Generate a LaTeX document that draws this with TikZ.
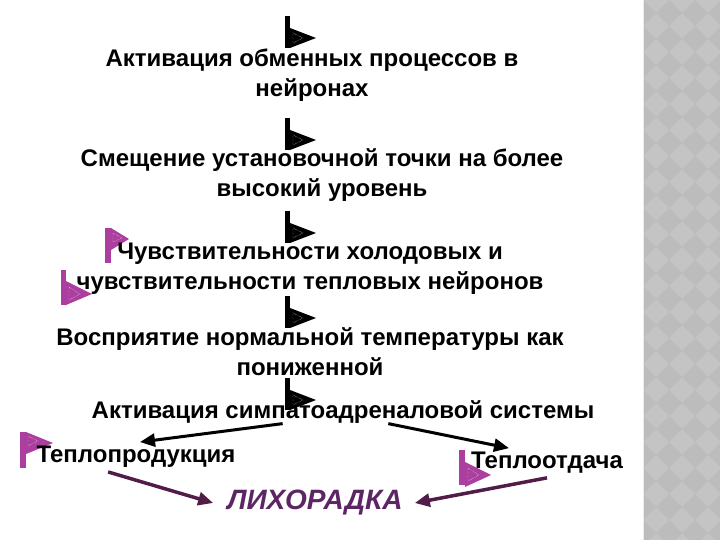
\documentclass[tikz,border=0pt]{standalone}
\usepackage{fontspec}
\setmainfont{Liberation Sans}
\usetikzlibrary{arrows.meta,calc}
\definecolor{flagpink}{RGB}{172,62,160}
\definecolor{fevpurple}{RGB}{92,38,100}
\definecolor{darrow}{RGB}{82,28,72}
\definecolor{stripgray}{RGB}{196,196,196}
\definecolor{stripdark}{RGB}{188,188,188}
\tikzstyle{txt}=[font=\fontsize{24}{30}\selectfont\bfseries, align=center, inner sep=0pt]
\tikzstyle{blackarrow}=[line width=3pt, -{Triangle[length=15pt,width=13pt]}]
\tikzstyle{purplearrow}=[darrow, line width=3.5pt, -{Triangle[length=15pt,width=13pt]}]
\tikzstyle{dots}=[white, densely dotted, line width=0.4pt]

\begin{document}
\begin{tikzpicture}[x=1pt, y=-1pt]
	\useasboundingbox (0,0) rectangle (720,540);

	% grey strip on the right
	\begin{scope}
		\clip (643,0) rectangle (720,540);
		\fill[stripgray] (643,0) rectangle (720,540);
		\foreach \i in {0,...,21}
			\foreach \j in {0,1,2,3}
			{
				\fill[stripdark] (643+26*\j,26*\i) -- +(13,13) -- +(0,26) -- +(-13,13) -- cycle;
			}
	\end{scope}
	\draw[white!85!gray, line width=1pt] (643,0) -- (643,540);

	% black flags between the steps
	\foreach \b in {48,150,243,328,410}
		{
			\fill (285,\b) rectangle (290,\b-32);
			\fill (290,\b) -- (290,\b-20) -- (316,\b-10) -- cycle;
			\draw[dots] (293,\b-5) -- (293,\b-15) -- (303,\b-10) -- cycle;
		}

	% pink flags
	\fill[flagpink] (105,228) rectangle (111,263);
	\fill[flagpink] (111,228) -- (129,239) -- (111,250) -- cycle;
	\draw[dots] (113,233) -- (113,242) -- (122,238) -- cycle;

	\fill[flagpink] (61,270) rectangle (66,305);
	\fill[flagpink] (66,281) -- (92,294) -- (66,305) -- cycle;
	\draw[dots] (69,287) -- (69,300) -- (80,294) -- cycle;

	\fill[flagpink] (20,432) rectangle (26,468);
	\fill[flagpink] (26,432) -- (53,443) -- (26,454) -- cycle;
	\draw[dots] (28,436) -- (28,446) -- (38,441) -- cycle;

	\fill[flagpink] (459,450) rectangle (465,485);
	\fill[flagpink] (465,462) -- (491,475) -- (465,487) -- cycle;
	\draw[dots] (468,468) -- (468,481) -- (479,475) -- cycle;

	% steps
	\node[txt] (act) at (312,75) {Активация обменных процессов в\\нейронах};
	\node[txt] (shift) at (322,175) {Смещение установочной точки на более\\высокий уровень};
	\node[txt] (sens) at (310,269) {Чувствительности холодовых и\\чувствительности тепловых нейронов};
	\node[txt] (perc) at (310,352) {Восприятие нормальной температуры как\\пониженной};
	\node[txt] (symp) at (343,412) {Активация симпатоадреналовой системы};
	\node[txt] (prod) at (136,457) {Теплопродукция};
	\node[txt] (loss) at (547,463) {Теплоотдача};
	\node[txt, fevpurple, font=\fontsize{28}{30}\selectfont\bfseries\itshape] (fever) at (315,503) {ЛИХОРАДКА};

	\draw[blackarrow] ($(symp.south west)!0.38!(symp.south east)$) -- ($(prod.north)+(4,-4)$);
	\draw[blackarrow] ($(symp.south west)!0.59!(symp.south east)$) -- ($(loss.north west)!0.25!(loss.north east)+(0,-4)$);
	\draw[purplearrow] ($(prod.south west)!0.36!(prod.south east)+(0,4)$) -- ($(fever.west)+(-14,0)$);
	\draw[purplearrow] ($(loss.south)+(0,4)$) -- ($(fever.east)+(12,0)$);

\end{tikzpicture}
\end{document}
